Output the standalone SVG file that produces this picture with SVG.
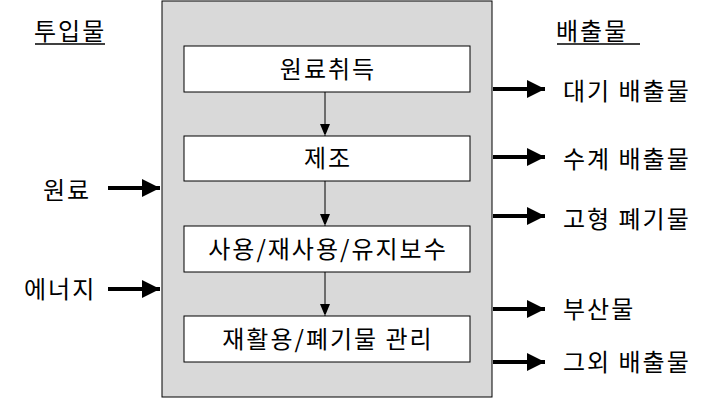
<svg xmlns="http://www.w3.org/2000/svg" width="712" height="401" viewBox="0 0 712 401">
<style>
text{font-family:"Noto Sans CJK KR","Liberation Sans",sans-serif;font-size:24px;letter-spacing:2px;fill:#000}
.box{fill:#fff;stroke:#000;stroke-width:1}
.thin{stroke:#000;stroke-width:1;fill:none}
.thick{stroke:#000;stroke-width:4;fill:none}
</style>
<defs>
<marker id="ah" markerWidth="10" markerHeight="12" refX="12" refY="5" orient="auto" markerUnits="userSpaceOnUse"><path d="M0,0L12,5L0,10Z" fill="#000"/></marker>
<marker id="ahb" markerWidth="18" markerHeight="18" refX="18" refY="9" orient="auto" markerUnits="userSpaceOnUse"><path d="M0,0L18,9L0,18Z" fill="#000"/></marker>
</defs>
<rect x="162" y="1" width="330" height="396" fill="#d9d9d9" stroke="#000" stroke-width="1"/>
<g id="n1"><rect class="box" x="184" y="46" width="286" height="46"/><text x="328" y="78" text-anchor="middle">원료취득</text></g>
<g id="n2"><rect class="box" x="184" y="136" width="286" height="45"/><text x="328" y="167" text-anchor="middle">제조</text></g>
<g id="n3"><rect class="box" x="184" y="226" width="286" height="46"/><text x="328" y="258" text-anchor="middle">사용/재사용/유지보수</text></g>
<g id="n4"><rect class="box" x="184" y="316" width="286" height="46"/><text x="328" y="348" text-anchor="middle">재활용/폐기물 관리</text></g>
<g id="in">
<text x="34" y="40">투입물</text><line x1="35" y1="44" x2="105" y2="44" stroke="#000" stroke-width="1.5"/>
<text x="43" y="199">원료</text>
<text x="24" y="298">에너지</text>
</g>
<g id="out">
<text x="556" y="40">배출물</text><line x1="557" y1="44" x2="640" y2="44" stroke="#000" stroke-width="1.5"/>
<text x="563" y="100">대기 배출물</text>
<text x="563" y="168">수계 배출물</text>
<text x="563" y="228">고형 폐기물</text>
<text x="563" y="318">부산물</text>
<text x="563" y="371">그외 배출물</text>
</g>
<g id="connectors">
<line class="thin" x1="325" y1="92" x2="325" y2="136" marker-end="url(#ah)"/>
<line class="thin" x1="325" y1="181" x2="325" y2="226" marker-end="url(#ah)"/>
<line class="thin" x1="325" y1="272" x2="325" y2="316" marker-end="url(#ah)"/>
<line class="thick" x1="108" y1="188" x2="160" y2="188" marker-end="url(#ahb)"/>
<line class="thick" x1="108" y1="289" x2="160" y2="289" marker-end="url(#ahb)"/>
<line class="thick" x1="493" y1="89" x2="545" y2="89" marker-end="url(#ahb)"/>
<line class="thick" x1="493" y1="157" x2="545" y2="157" marker-end="url(#ahb)"/>
<line class="thick" x1="493" y1="216" x2="545" y2="216" marker-end="url(#ahb)"/>
<line class="thick" x1="493" y1="309" x2="545" y2="309" marker-end="url(#ahb)"/>
<line class="thick" x1="493" y1="362" x2="545" y2="362" marker-end="url(#ahb)"/>
</g>
</svg>
